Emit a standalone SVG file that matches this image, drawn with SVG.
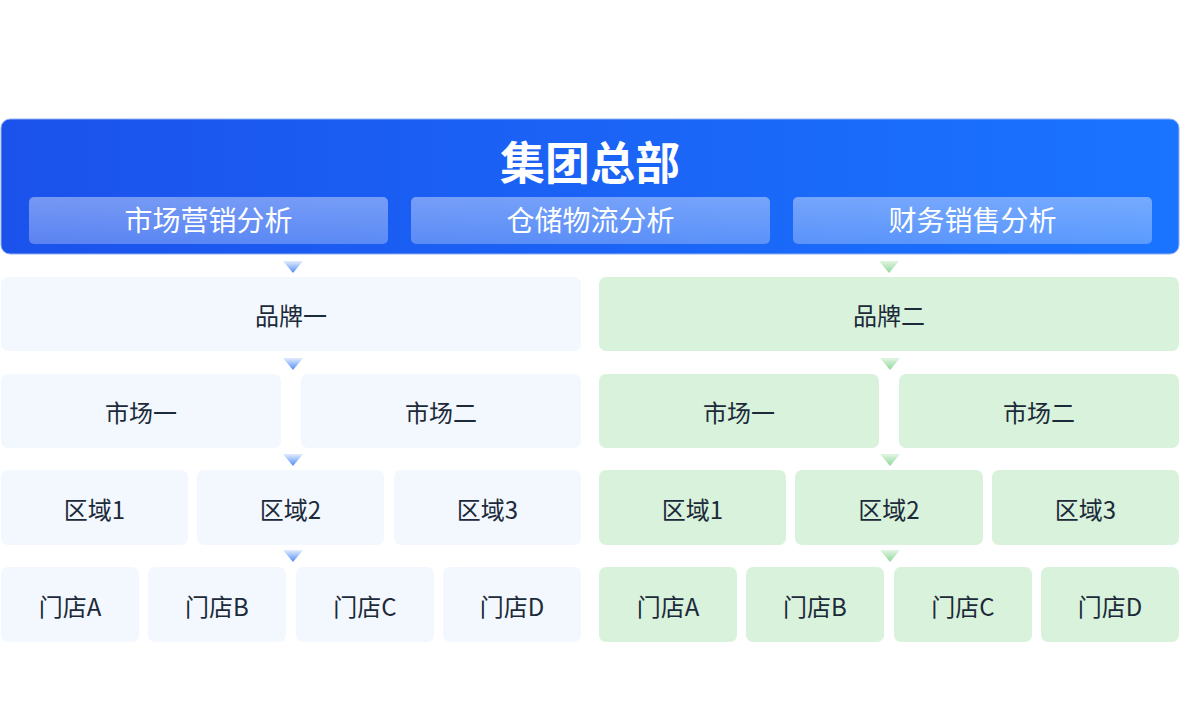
<svg xmlns="http://www.w3.org/2000/svg" width="1180" height="720" viewBox="0 0 1180 720">
<defs>
<linearGradient id="hdr" x1="0" y1="0" x2="1" y2="0">
<stop offset="0" stop-color="#1b52ec"/>
<stop offset="1" stop-color="#1a74ff"/>
</linearGradient>
<linearGradient id="sub" x1="0" y1="0" x2="0" y2="1">
<stop offset="0" stop-color="#ffffff" stop-opacity="0.40"/>
<stop offset="1" stop-color="#ffffff" stop-opacity="0.28"/>
</linearGradient>
<linearGradient id="ab" x1="0" y1="0" x2="0" y2="1">
<stop offset="0" stop-color="#e3edfd"/>
<stop offset="1" stop-color="#4f8cf2"/>
</linearGradient>
<linearGradient id="ag" x1="0" y1="0" x2="0" y2="1">
<stop offset="0" stop-color="#e2f5e4"/>
<stop offset="1" stop-color="#8ed89a"/>
</linearGradient>
<path id="tri" d="M-10,0 L10,0 L0,12 Z"/>
</defs>
<style>
.b{fill:#f3f8fe}
.g{fill:#d9f2db}
.t{font-family:"Noto Sans CJK SC","Noto Sans",sans-serif;font-size:24px;fill:#1c2a3a;text-anchor:middle;dominant-baseline:central}
.w{font-family:"Noto Sans CJK SC","Noto Sans",sans-serif;font-size:28px;fill:#ffffff;text-anchor:middle;dominant-baseline:central}
.h{font-family:"Noto Sans CJK SC","Noto Sans",sans-serif;font-size:45px;font-weight:bold;fill:#ffffff;text-anchor:middle;dominant-baseline:central}
</style>
<rect width="1180" height="720" fill="#ffffff"/>
<g id="hq">
<rect x="1" y="119" width="1178" height="135" rx="9" fill="url(#hdr)" stroke="#8fb0f5" stroke-width="1"/>
<text class="h" x="590" y="160">集团总部</text>
</g>
<g id="sub1"><rect x="29" y="197" width="359" height="47" rx="5" fill="url(#sub)"/><text class="w" x="208.5" y="219">市场营销分析</text></g>
<g id="sub2"><rect x="411" y="197" width="359" height="47" rx="5" fill="url(#sub)"/><text class="w" x="590.5" y="219">仓储物流分析</text></g>
<g id="sub3"><rect x="793" y="197" width="359" height="47" rx="5" fill="url(#sub)"/><text class="w" x="972.5" y="219">财务销售分析</text></g>

<g id="connectors">
<use href="#tri" x="293" y="261" fill="url(#ab)"/>
<use href="#tri" x="293" y="358" fill="url(#ab)"/>
<use href="#tri" x="293" y="454" fill="url(#ab)"/>
<use href="#tri" x="293" y="550" fill="url(#ab)"/>
<use href="#tri" x="889" y="261" fill="url(#ag)"/>
<use href="#tri" x="890" y="358" fill="url(#ag)"/>
<use href="#tri" x="890" y="454" fill="url(#ag)"/>
<use href="#tri" x="890" y="550" fill="url(#ag)"/>
</g>

<g id="brand1"><rect class="b" x="1" y="277" width="580" height="74" rx="7"/><text class="t" x="291" y="314">品牌一</text></g>
<g id="brand2"><rect class="g" x="599" y="277" width="580" height="74" rx="7"/><text class="t" x="889" y="314">品牌二</text></g>

<g id="l-m1"><rect class="b" x="1" y="374" width="280" height="74" rx="7"/><text class="t" x="141" y="411">市场一</text></g>
<g id="l-m2"><rect class="b" x="301" y="374" width="280" height="74" rx="7"/><text class="t" x="441" y="411">市场二</text></g>
<g id="r-m1"><rect class="g" x="599" y="374" width="280" height="74" rx="7"/><text class="t" x="739" y="411">市场一</text></g>
<g id="r-m2"><rect class="g" x="899" y="374" width="280" height="74" rx="7"/><text class="t" x="1039" y="411">市场二</text></g>

<g id="l-r1"><rect class="b" x="1" y="470" width="187" height="75" rx="7"/><text class="t" x="94.5" y="508">区域1</text></g>
<g id="l-r2"><rect class="b" x="197" y="470" width="187" height="75" rx="7"/><text class="t" x="290.5" y="508">区域2</text></g>
<g id="l-r3"><rect class="b" x="394" y="470" width="187" height="75" rx="7"/><text class="t" x="487.5" y="508">区域3</text></g>
<g id="r-r1"><rect class="g" x="599" y="470" width="187" height="75" rx="7"/><text class="t" x="692.5" y="508">区域1</text></g>
<g id="r-r2"><rect class="g" x="795" y="470" width="188" height="75" rx="7"/><text class="t" x="889" y="508">区域2</text></g>
<g id="r-r3"><rect class="g" x="992" y="470" width="187" height="75" rx="7"/><text class="t" x="1085.5" y="508">区域3</text></g>

<g id="l-sA"><rect class="b" x="1" y="567" width="138" height="75" rx="7"/><text class="t" x="70" y="605">门店A</text></g>
<g id="l-sB"><rect class="b" x="148" y="567" width="138" height="75" rx="7"/><text class="t" x="217" y="605">门店B</text></g>
<g id="l-sC"><rect class="b" x="296" y="567" width="138" height="75" rx="7"/><text class="t" x="365" y="605">门店C</text></g>
<g id="l-sD"><rect class="b" x="443" y="567" width="138" height="75" rx="7"/><text class="t" x="512" y="605">门店D</text></g>
<g id="r-sA"><rect class="g" x="599" y="567" width="138" height="75" rx="7"/><text class="t" x="668" y="605">门店A</text></g>
<g id="r-sB"><rect class="g" x="746" y="567" width="138" height="75" rx="7"/><text class="t" x="815" y="605">门店B</text></g>
<g id="r-sC"><rect class="g" x="894" y="567" width="138" height="75" rx="7"/><text class="t" x="963" y="605">门店C</text></g>
<g id="r-sD"><rect class="g" x="1041" y="567" width="138" height="75" rx="7"/><text class="t" x="1110" y="605">门店D</text></g>
</svg>
